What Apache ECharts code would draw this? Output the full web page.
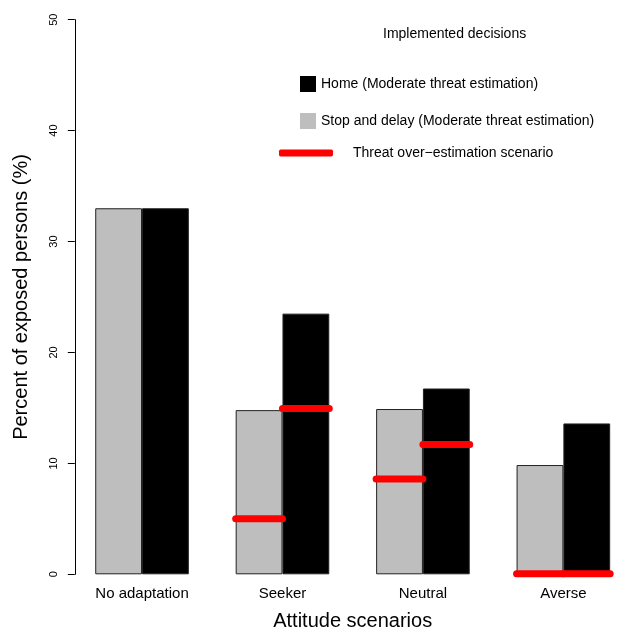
<!DOCTYPE html>
<html>
<head>
<meta charset="utf-8">
<script src="https://cdn.jsdelivr.net/npm/echarts@6/dist/echarts.min.js"></script>
<style>
html,body{margin:0;padding:0;background:#fff;}
#chart{width:622px;height:628px;}
</style>
</head>
<body>
<div id="chart"></div>
<script>
// ---- data ----
var categories = ['No adaptation', 'Seeker', 'Neutral', 'Averse'];
var stopDelay = [33.0, 14.8, 14.9, 9.85];      // grey bars
var home = [33.0, 23.5, 16.75, 13.6];          // black bars
var overEstStop = [null, 5.0, 8.6, 0.05];      // red lines over grey bars
var overEstHome = [null, 14.95, 11.7, 0.05];   // red lines over black bars
var yTicks = [0, 10, 20, 30, 40, 50];

var nameHome = 'Home (Moderate threat estimation)';
var nameStop = 'Stop and delay (Moderate threat estimation)';
var nameOver = 'Threat over\u2212estimation scenario';

var redData = [];
overEstStop.forEach(function (v, i) { if (v !== null) redData.push([i, v, -1]); });
overEstHome.forEach(function (v, i) { if (v !== null) redData.push([i, v, 1]); });

var font = 'Liberation Sans, Arial, Helvetica, sans-serif';
var chart = echarts.init(document.getElementById('chart'), null, {renderer: 'canvas'});
chart.setOption({
  animation: false,
  backgroundColor: '#ffffff',
  textStyle: {fontFamily: font, color: '#000'},
  title: {
    text: 'Implemented decisions',
    left: 383, top: 27,
    padding: 0,
    textStyle: {fontSize: 14, fontWeight: 'normal', color: '#000', fontFamily: font}
  },
  legend: [{
    data: [{name: nameHome, icon: 'rect'}, {name: nameStop, icon: 'rect'}],
    orient: 'vertical',
    left: 300, top: 76,
    padding: 0,
    itemWidth: 16, itemHeight: 16, itemGap: 21,
    selectedMode: false,
    itemStyle: {borderWidth: 0},
    textStyle: {fontSize: 14, color: '#000', fontFamily: font}
  }, {
    data: [{name: nameOver, icon: 'roundRect'}],
    left: 279, top: 146,
    padding: 0,
    itemWidth: 54, itemHeight: 7,
    selectedMode: false,
    itemStyle: {borderWidth: 0},
    textStyle: {fontSize: 14, color: '#000', fontFamily: font, padding: [0, 0, 0, 15]}
  }],
  grid: {left: 71.8, right: -11.6, top: 19.7, bottom: 53.7, containLabel: false, outerBoundsMode: 'none'},
  xAxis: {
    type: 'category',
    data: categories,
    boundaryGap: true,
    axisLine: {show: false},
    axisTick: {show: false},
    axisLabel: {fontSize: 15, color: '#000', margin: 12, fontFamily: font},
    name: 'Attitude scenarios',
    nameLocation: 'middle',
    nameGap: 37,
    nameTextStyle: {fontSize: 20, color: '#000', fontFamily: font}
  },
  yAxis: {
    type: 'value',
    min: yTicks[0], max: yTicks[yTicks.length - 1], interval: 10,
    offset: -3,
    splitLine: {show: false},
    axisLine: {show: true, lineStyle: {color: '#000', width: 1}},
    axisTick: {show: true, length: 7, lineStyle: {color: '#000'}},
    axisLabel: {fontSize: 11, color: '#000', rotate: 90, margin: 15, fontFamily: font},
    name: 'Percent of exposed persons (%)',
    nameLocation: 'middle',
    nameGap: 43,
    nameTextStyle: {fontSize: 20, color: '#000', fontFamily: font}
  },
  series: [{
    name: nameStop,
    type: 'bar',
    data: stopDelay,
    barWidth: 46.8,
    barGap: '0%',
    itemStyle: {color: '#BEBEBE', borderColor: '#222', borderWidth: 1}
  }, {
    name: nameHome,
    type: 'bar',
    data: home,
    barWidth: 46.8,
    barGap: '0%',
    itemStyle: {color: '#000000', borderColor: '#222', borderWidth: 1}
  }, {
    name: nameOver,
    type: 'custom',
    data: redData,
    itemStyle: {color: '#FF0000'},
    renderItem: function (params, api) {
      var cat = api.value(0), v = api.value(1), side = api.value(2);
      var p = api.coord([cat, v]);
      var bw = 46.8;
      var x0 = side < 0 ? p[0] - bw : p[0];
      return {
        type: 'line',
        shape: {x1: x0, y1: p[1], x2: x0 + bw, y2: p[1]},
        style: {stroke: '#FF0000', lineWidth: 7, lineCap: 'round'}
      };
    },
    z: 5
  }]
});
</script>
</body>
</html>
